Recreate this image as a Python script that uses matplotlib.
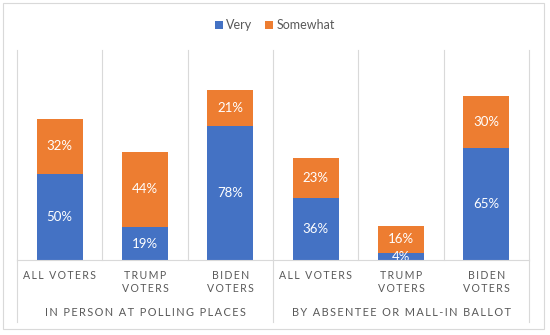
import matplotlib.pyplot as plt
from matplotlib.patches import Rectangle

plt.rcParams['font.family'] = ['Lato', 'DejaVu Sans']

# data
categories = ["ALL VOTERS", "TRUMP\nVOTERS", "BIDEN\nVOTERS",
              "ALL VOTERS", "TRUMP\nVOTERS", "BIDEN\nVOTERS"]
groups = ["IN PERSON AT POLLING PLACES", "BY ABSENTEE OR MALL-IN BALLOT"]
very = [50, 19, 78, 36, 4, 65]
somewhat = [32, 44, 21, 23, 16, 30]

blue = "#4472C4"
orange = "#ED7D31"
grid = "#D9D9D9"
txt = "#595959"


def spaced(s):
    # fake letter spacing with thin spaces
    return "\n".join("\u2009".join(line) for line in s.split("\n"))


fig = plt.figure(figsize=(5.5, 3.35), dpi=100)
ax = fig.add_axes([17 / 550, 75 / 335, 512 / 550, 210 / 335])

x = list(range(len(categories)))
w = 0.54
b1 = ax.bar(x, very, w, color=blue, label="Very")
b2 = ax.bar(x, somewhat, w, bottom=very, color=orange, label="Somewhat")

for bars, vals, bots in ((b1, very, [0] * 6), (b2, somewhat, very)):
    for xi, v, b in zip(x, vals, bots):
        ax.text(xi, b + v / 2, f"{v}%", ha="center", va="center",
                color="white", fontsize=9.5, clip_on=True)

ax.set_xlim(-0.5, 5.5)
ax.set_ylim(0, 122)
ax.axis("off")

# separators
for i in range(7):
    xs = i - 0.5
    ax.plot([xs, xs], [0, 122], color=grid, lw=0.8, zorder=0, clip_on=False)
for xs in (-0.5, 2.5, 5.5):
    ax.plot([xs, xs], [0, -62 / 210 * 122], color=grid, lw=0.8,
            clip_on=False)
ax.plot([-0.5, 5.5], [0, 0], color=grid, lw=0.8, clip_on=False)

tr = ax.get_xaxis_transform()
for xi, c in zip(x, categories):
    ax.text(xi, -10 / 210, spaced(c), transform=tr, ha="center", va="top",
            color=txt, fontsize=7.6, linespacing=1.25)
for gi, g in enumerate(groups):
    ax.text(gi * 3 + 1, -53 / 210, spaced(g), transform=tr, ha="center",
            va="center", color=txt, fontsize=7.9)

fig.legend(loc="center", bbox_to_anchor=(0.5, 1 - 25 / 335), ncol=2,
           frameon=False, fontsize=9, handlelength=0.6, handleheight=0.6,
           handletextpad=0.3, columnspacing=1.0, labelcolor=txt)

fig.patches.append(Rectangle((3 / 550, 6 / 335), 541 / 550, 326 / 335,
                             transform=fig.transFigure, fill=False,
                             edgecolor=grid, lw=0.8))

fig.savefig("out.png", dpi=100)
